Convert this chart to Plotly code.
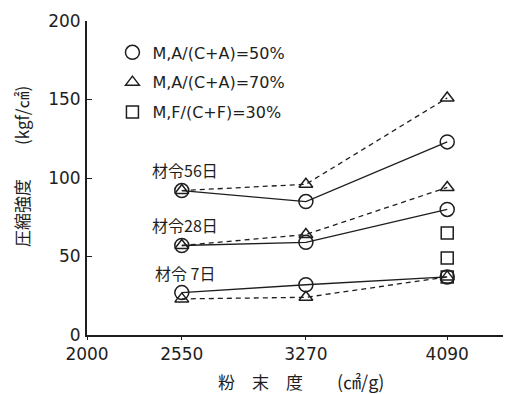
import plotly.graph_objects as go

fineness = [2550, 3270, 4090]
ages = ["材令56日", "材令28日", "材令 7日"]
a50 = {"56": [92, 85, 123], "28": [57, 59, 80], "7": [27, 32, 37]}
a70 = {"56": [92, 96, 151], "28": [57, 64, 94], "7": [23, 24, 37]}
f30_x = [4090, 4090, 4090]
f30 = [65, 49, 37]
xticks = [2000, 2550, 3270, 4090]
yticks = [0, 50, 100, 150, 200]

INK = "#1e1e1e"
fig = go.Figure()

for k in ["56", "28", "7"]:
    fig.add_trace(go.Scatter(x=fineness, y=a50[k], mode="lines", showlegend=False,
                             line=dict(color=INK, width=1.3)))
    fig.add_trace(go.Scatter(x=fineness, y=a70[k], mode="lines", showlegend=False,
                             line=dict(color=INK, width=1.3, dash="5px,4px")))

xs = fineness * 3
ys50 = a50["56"] + a50["28"] + a50["7"]
ys70 = a70["56"] + a70["28"] + a70["7"]
fig.add_trace(go.Scatter(x=xs, y=ys50, mode="markers", name="M,A/(C+A)=50%",
                         legendgroup="a", marker=dict(symbol="circle-open", size=14,
                         color=INK, line=dict(width=1.5, color=INK))))
fig.add_trace(go.Scatter(x=xs, y=ys70, mode="markers", name="M,A/(C+A)=70%",
                         legendgroup="b", marker=dict(symbol="triangle-up-open", size=12,
                         color=INK, line=dict(width=1.5, color=INK))))
fig.add_trace(go.Scatter(x=f30_x, y=f30, mode="markers", name="M,F/(C+F)=30%",
                         legendgroup="c", marker=dict(symbol="square-open", size=12,
                         color=INK, line=dict(width=1.5, color=INK))))

label_y = [105, 70, 39.5]
annotations = []
for txt, yy in zip(ages, label_y):
    annotations.append(dict(x=2567, y=yy, xref="x", yref="y", text=txt, showarrow=False,
                            font=dict(family="Noto Sans CJK JP", size=16, color=INK)))
annotations.append(dict(x=-66 / 424, y=0.535, xref="paper", yref="paper", textangle=-90,
                        xanchor="center", yanchor="middle",
                        text="圧縮強度　　(kgf/㎠)", showarrow=False,
                        font=dict(family="Noto Sans CJK JP", size=17, color=INK)))
annotations.append(dict(x=0.505, y=-46 / 314, xref="paper", yref="paper",
                        xanchor="center", yanchor="middle",
                        text="粉　末　度　　<span style='font-size:18px'>(㎠/g)</span>",
                        showarrow=False,
                        font=dict(family="Noto Sans CJK JP", size=17, color=INK)))

fig.update_layout(
    width=503, height=386,
    margin=dict(l=79, r=0, t=13, b=59),
    paper_bgcolor="white", plot_bgcolor="white",
    font=dict(family="DejaVu Sans", size=17, color=INK),
    annotations=annotations,
    legend=dict(x=0.06, y=0.954, xanchor="left", yanchor="top",
                bgcolor="rgba(0,0,0,0)", tracegroupgap=6,
                font=dict(family="DejaVu Sans", size=16, color=INK)),
    xaxis=dict(range=[2000, 4460], tickvals=xticks, ticktext=[str(v) for v in xticks],
               showgrid=False, zeroline=False, showline=True, linecolor=INK, linewidth=1.8,
               ticks="outside", ticklen=3, tickcolor=INK),
    yaxis=dict(range=[0, 200], tickvals=yticks, showgrid=False, zeroline=False,
               showline=True, linecolor=INK, linewidth=1.8, ticks="inside", ticklen=5,
               tickcolor=INK, ticklabelstandoff=1),
)

fig.write_html("out.html")
